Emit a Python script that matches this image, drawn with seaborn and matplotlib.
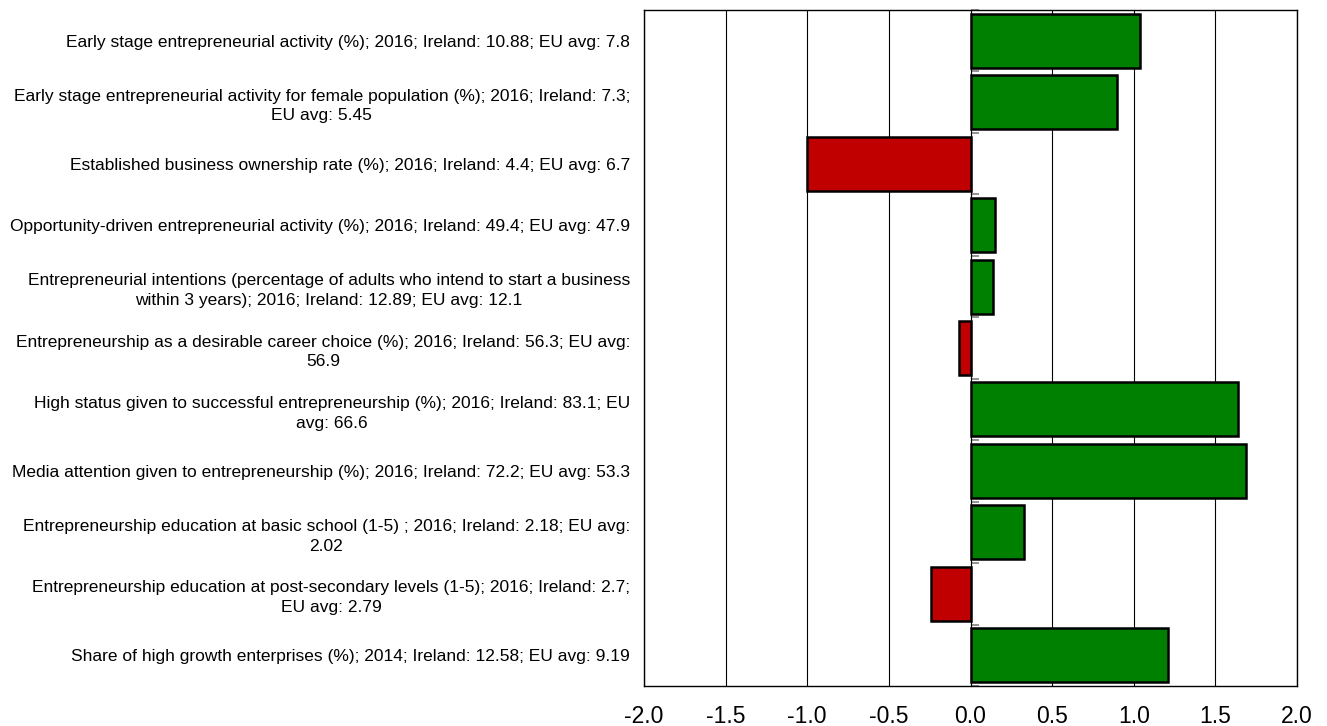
import matplotlib
matplotlib.use("Agg")
import matplotlib.pyplot as plt
import numpy as np
import seaborn as sns

# indicator labels (line breaks as in the source chart)
labels = [
    "Early stage entrepreneurial activity (%); 2016; Ireland: 10.88; EU avg: 7.8",
    "Early stage entrepreneurial activity for female population (%); 2016; Ireland: 7.3;\nEU avg: 5.45",
    "Established business ownership rate (%); 2016; Ireland: 4.4; EU avg: 6.7",
    "Opportunity-driven entrepreneurial activity (%); 2016; Ireland: 49.4; EU avg: 47.9",
    "Entrepreneurial intentions (percentage of adults who intend to start a business\nwithin 3 years); 2016; Ireland: 12.89; EU avg: 12.1",
    "Entrepreneurship as a desirable career choice (%); 2016; Ireland: 56.3; EU avg:\n56.9",
    "High status given to successful entrepreneurship (%); 2016; Ireland: 83.1; EU\navg: 66.6",
    "Media attention given to entrepreneurship (%); 2016; Ireland: 72.2; EU avg: 53.3",
    "Entrepreneurship education at basic school (1-5) ; 2016; Ireland: 2.18; EU avg:\n2.02",
    "Entrepreneurship education at post-secondary levels (1-5); 2016; Ireland: 2.7;\nEU avg: 2.79",
    "Share of high growth enterprises (%); 2014; Ireland: 12.58; EU avg: 9.19",
]

# standardised distance from EU average
values = [1.04, 0.90, -1.00, 0.15, 0.14, -0.07, 1.64, 1.69, 0.33, -0.24, 1.21]

x_ticks = [-2.0, -1.5, -1.0, -0.5, 0.0, 0.5, 1.0, 1.5, 2.0]

GREEN = "#008000"
RED = "#C00000"
bar_colors = [GREEN if v >= 0 else RED for v in values]

sns.set_style("white")
plt.rcParams["font.family"] = ["Liberation Sans", "DejaVu Sans"]
plt.rcParams["text.color"] = "black"
plt.rcParams["xtick.color"] = "black"
plt.rcParams["ytick.color"] = "black"

fig = plt.figure(figsize=(13.27, 7.26), dpi=100)
ax = fig.add_axes([0.4853, 0.0551, 0.4921, 0.9311])

sns.barplot(
    x=values, y=labels, hue=labels, palette=bar_colors, legend=False,
    orient="h", width=0.88, saturation=1, edgecolor="black", linewidth=1.8,
    ax=ax, zorder=3,
)

ax.set_xlim(-2, 2)
ax.set_ylim(len(labels) - 0.5, -0.5)
ax.set_xticks(x_ticks)
ax.set_xticklabels([f"{t:.1f}" for t in x_ticks], fontsize=16.5)
ax.tick_params(axis="x", length=0, pad=14)
ax.tick_params(axis="y", length=0, pad=10)
for lbl in ax.get_yticklabels():
    lbl.set_fontsize(12.5)
    lbl.set_multialignment("center")
    lbl.set_linespacing(1.4)
ax.set_xlabel("")
ax.set_ylabel("")

ax.grid(axis="x", color="black", linewidth=0.8, zorder=0)
ax.grid(axis="y", visible=False)
for sp in ax.spines.values():
    sp.set_visible(True)
    sp.set_color("black")
    sp.set_linewidth(1.0)

# small category-boundary ticks on the zero line
zero_ax = ax.secondary_yaxis(0.5)
zero_ax.set_yticks(np.arange(len(labels) + 1) - 0.5)
zero_ax.set_yticklabels([])
zero_ax.tick_params(length=6, color="gray", width=1.2)
zero_ax.spines["left"].set_visible(False)

fig.savefig("out.png", dpi=100)
